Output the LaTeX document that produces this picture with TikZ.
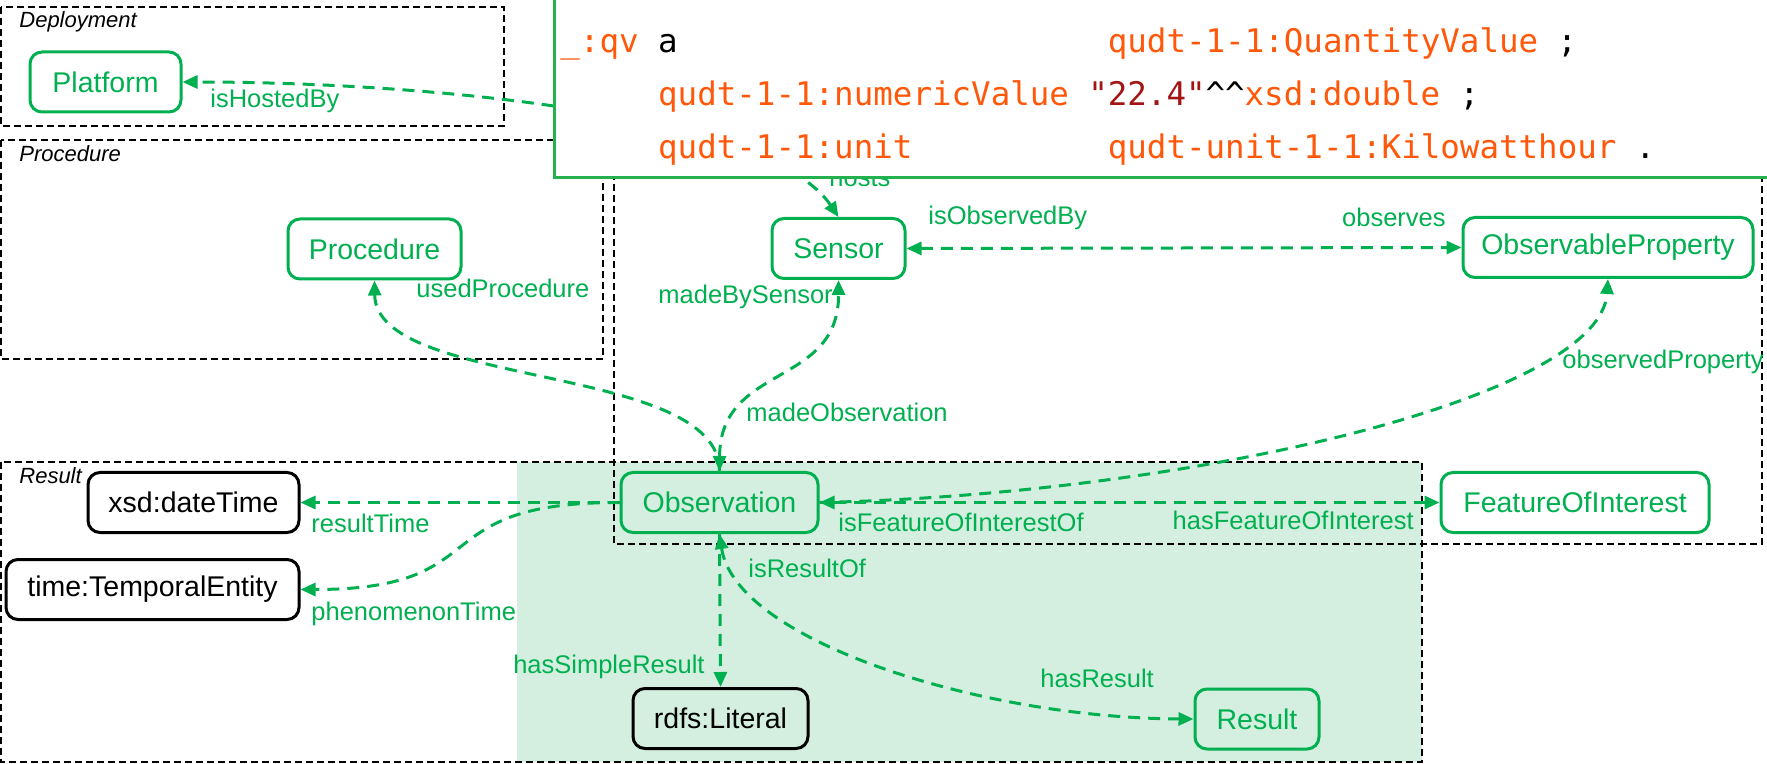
\documentclass[tikz,border=0pt]{standalone}
\usepackage{fontspec}
\setmainfont{Liberation Sans}
\newfontfamily\codefont{DejaVu Sans Mono}
\usetikzlibrary{arrows.meta}
\definecolor{sosa}{RGB}{0,176,80}
\definecolor{codeframe}{RGB}{34,177,76}
\definecolor{shadegreen}{RGB}{212,239,223}
\definecolor{codeorange}{RGB}{255,88,10}
\definecolor{codered}{RGB}{163,21,21}
\begin{document}
\begin{tikzpicture}[x=0.5pt,y=-0.5pt,
  cls/.style={draw=sosa, text=sosa, line width=1.5pt, rounded corners=6pt, minimum height=30pt, inner sep=0pt, font=\fontsize{14.25}{16}\selectfont},
  lit/.style={cls, draw=black, text=black},
  rel/.style={draw=sosa, line width=1.5pt, dash pattern=on 6pt off 4pt, >={Triangle[length=7.5pt,width=6.5pt]}},
  lbl/.style={text=sosa, inner sep=0pt, font=\fontsize{12.75}{15}\selectfont},
  grp/.style={draw=black, line width=1.3pt, dash pattern=on 3.5pt off 2pt},
  grplbl/.style={inner sep=0pt, anchor=base west, font=\fontsize{11}{13}\selectfont\itshape},
  code/.style={inner sep=0pt, anchor=base west, font=\codefont\fontsize{16.25}{19}\selectfont},
]
\useasboundingbox (0,0) rectangle (1767,764);
\begin{scope}
\clip (0,0) rectangle (1767,764);
% shaded area
\fill[shadegreen] (517,462) rectangle (1422,762);
% group boxes
\draw[grp] (1,7) rectangle (504,126);
\draw[grp] (1,140) rectangle (603,359);
\draw[grp] (614,140) rectangle (1762,544);
\draw[grp] (1,462) rectangle (1422,762);
\node[grplbl] (g-dep) at (19,28) {Deployment};
\node[grplbl] (g-proc) at (19,162) {Procedure};
\node[grplbl] (g-res) at (19,483) {Result};

% nodes
\node[cls, minimum width=75.5pt] (platform) at (105.5,82) {Platform};
\node[cls, minimum width=86.5pt] (procedure) at (374.5,249) {Procedure};
\node[cls, minimum width=66.5pt] (sensor) at (838.5,248.5) {Sensor};
\node[cls, minimum width=145pt] (obsprop) at (1608,247.5) {ObservableProperty};
\node[cls, minimum width=98.5pt] (observation) at (719.5,502.5) {Observation};
\node[cls, minimum width=134pt] (foi) at (1575,502.5) {FeatureOfInterest};
\node[lit, minimum width=105.5pt] (datetime) at (193.5,502.5) {xsd:dateTime};
\node[lit, minimum width=146.5pt] (temporal) at (152.5,589.5) {time:TemporalEntity};
\node[lit, minimum width=87.5pt] (literal) at (720.5,718.5) {rdfs:Literal};
\node[cls, minimum width=62pt] (result) at (1257,719) {Result};

% connectors
\draw[rel, <->] (sensor.north) .. controls (770,115) and (430,82) .. (platform.east);
\draw[rel, <->] (sensor.east) -- (obsprop.west);
\draw[rel, <->] (observation.north) .. controls (720,363) and (839,388) .. (sensor.south);
\draw[rel, ->] (observation.north) .. controls (720,363) and (376,389) .. (procedure.south);
\draw[rel, ->] (observation.east) .. controls (1180,495) and (1600,400) .. (obsprop.south);
\draw[rel, <->] (observation.east) -- (foi.west);
\draw[rel, ->] (observation.west) -- (datetime.east);
\draw[rel, ->] (observation.west) .. controls (420,502) and (500,589.5) .. (temporal.east);
\draw[rel, ->] (observation.south) -- (literal.north);
\draw[rel, <->] (observation.south) .. controls (735,640) and (980,718) .. (result.west);

% labels
\node[lbl, anchor=base west] (l-hosted) at (210,108) {isHostedBy};
\node[lbl, anchor=base west] (l-used) at (416,298) {usedProcedure};
\node[lbl, anchor=base west] (l-hosts) at (829,187) {hosts};
\node[lbl, anchor=base west] (l-isobs) at (928,225) {isObservedBy};
\node[lbl, anchor=base east] (l-obs) at (1446,227) {observes};
\node[lbl, anchor=base west] (l-mbs) at (658,304) {madeBySensor};
\node[lbl, anchor=base west] (l-mo) at (746,422) {madeObservation};
\node[lbl, anchor=base west] (l-op) at (1562,369) {observedProperty};
\node[lbl, anchor=base west] (l-rt) at (311,532) {resultTime};
\node[lbl, anchor=base west] (l-pt) at (311,620) {phenomenonTime};
\node[lbl, anchor=base west] (l-ifoi) at (838,531) {isFeatureOfInterestOf};
\node[lbl, anchor=base east] (l-hfoi) at (1414,530) {hasFeatureOfInterest};
\node[lbl, anchor=base west] (l-iro) at (748,577) {isResultOf};
\node[lbl, anchor=base east] (l-hsr) at (705,673) {hasSimpleResult};
\node[lbl, anchor=base west] (l-hr) at (1040,687) {hasResult};

% code box
\draw[codeframe, line width=1.5pt, fill=white] (554,-10) rectangle (1790,178);
\node[code, text=codeorange] (c1a) at (560,53) {\_:qv};
\node[code, text=black] (c1b) at (657.75,53) {a};
\node[code, text=codeorange] (c1c) at (1107.4,53) {qudt-1-1:QuantityValue};
\node[code, text=black] (c1d) at (1557,53) {;};
\node[code, text=codeorange] (c2a) at (657.75,106) {qudt-1-1:numericValue};
\node[code, text=codered] (c2b) at (1087.85,106) {"22.4"};
\node[code, text=black] (c2c) at (1205.15,106) {\textasciicircum\textasciicircum};
\node[code, text=codeorange] (c2d) at (1244.25,106) {xsd:double};
\node[code, text=black] (c2e) at (1459.3,106) {;};
\node[code, text=codeorange] (c3a) at (657.75,159) {qudt-1-1:unit};
\node[code, text=codeorange] (c3b) at (1107.4,159) {qudt-unit-1-1:Kilowatthour};
\node[code, text=black] (c3c) at (1635.25,159) {.};
\end{scope}
\end{tikzpicture}
\end{document}
